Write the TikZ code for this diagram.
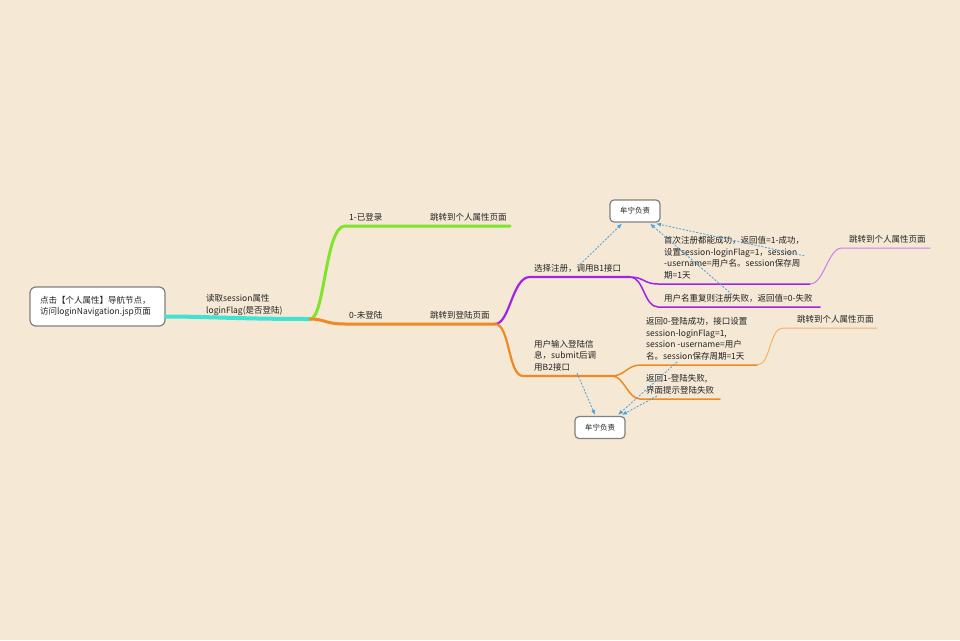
\documentclass[tikz,border=0pt]{standalone}
\usepackage{fontspec}
\setmainfont{Noto Sans CJK SC}
\usetikzlibrary{arrows.meta, positioning, calc}
\definecolor{paper}{RGB}{245,232,212}
\definecolor{rootcyan}{RGB}{64,226,212}
\definecolor{loggreen}{RGB}{128,228,44}
\definecolor{nologorange}{RGB}{240,136,36}
\definecolor{lightorange}{RGB}{246,176,106}
\definecolor{regpurple}{RGB}{160,36,230}
\definecolor{regviolet}{RGB}{212,124,232}
\definecolor{linkblue}{RGB}{70,160,225}
\definecolor{boxgray}{RGB}{128,128,128}
\definecolor{inkgray}{RGB}{34,34,34}

\tikzset{
  topic/.style={anchor=south west, inner xsep=0pt, inner ysep=2.5pt, align=left,
    text=inkgray, font=\fontsize{8.5}{11.7}\selectfont},
  rootbox/.style={draw=boxgray, fill=white, rounded corners=6pt, line width=1.2pt,
    text width=115pt, inner xsep=10pt, minimum height=39pt, align=left,
    text=inkgray, font=\fontsize{8.5}{11.7}\selectfont},
  ownerbox/.style={draw=boxgray, fill=white, rounded corners=4pt, line width=1.2pt,
    minimum width=50pt, minimum height=22pt, text=inkgray, font=\fontsize{7.5}{9}\selectfont},
  link/.style={linkblue, line width=0.8pt, dash pattern=on 2pt off 1.5pt,
    -{Latex[length=5pt,width=4pt]}},
  branch/.style={line cap=round}
}

\begin{document}
\begin{tikzpicture}[x=1pt, y=-1pt]
    % Background
    \fill[paper] (0,0) rectangle (960,640);

    % Root topic
    \node[rootbox] (root) at (97.5,306.5) {点击【个人属性】导航节点，\\访问loginNavigation.jsp页面};
    \coordinate (rootout) at ($(root.east)+(0,10)$);
    \coordinate (hub) at (310,319);
    \draw[branch, rootcyan, line width=4pt] (rootout) .. controls +(40,0) and +(-70,0) .. (hub);
    \node[topic] (readlbl) at (206,318) {读取session属性\\loginFlag(是否登陆)};

    % 1 - logged in
    \coordinate (yes) at (345,226);
    \coordinate (yesgo) at (510,226);
    \draw[branch, loggreen, line width=3pt] (hub) .. controls +(15,0) and +(-20,0) .. (yes) -- (yesgo);
    \node[topic] (yeslbl) at (349,224) {1-已登录};
    \node[topic] (yesgolbl) at (430,224) {跳转到个人属性页面};

    % 0 - not logged in
    \coordinate (no) at (345,324);
    \coordinate (nogo) at (495,324);
    \draw[branch, nologorange, line width=3pt] (hub) .. controls +(15,0) and +(-20,0) .. (no) -- (nogo);
    \node[topic] (nolbl) at (349,322) {0-未登陆};
    \node[topic] (nogolbl) at (430,322) {跳转到登陆页面};

    % Register
    \coordinate (reg) at (530,277);
    \coordinate (regend) at (630,277);
    \draw[branch, regpurple, line width=2.2pt] (nogo) .. controls +(15,0) and +(-18,0) .. (reg) -- (regend);
    \node[topic] (reglbl) at (534,275) {选择注册，调用B1接口};

    \coordinate (regok) at (658,284);
    \coordinate (regokend) at (810,284);
    \draw[branch, regpurple, line width=1.5pt] (regend) .. controls +(14,0) and +(-14,0) .. (regok) -- (regokend);
    \node[topic] (regoklbl) at (664,282) {首次注册都能成功，返回值=1-成功，\\设置session-loginFlag=1，session\\-username=用户名。session保存周\\期=1天};
    \coordinate (regokgo) at (842,248);
    \coordinate (regokgoend) at (930,248);
    \draw[branch, regviolet, line width=1pt] (regokend) .. controls +(14,0) and +(-14,0) .. (regokgo) -- (regokgoend);
    \node[topic] (regokgolbl) at (849,246) {跳转到个人属性页面};

    \coordinate (regfail) at (658,307);
    \coordinate (regfailend) at (820,307);
    \draw[branch, regpurple, line width=1.5pt] (regend) .. controls +(14,0) and +(-14,0) .. (regfail) -- (regfailend);
    \node[topic] (regfaillbl) at (664,305) {用户名重复则注册失败，返回值=0-失败};

    % Login
    \coordinate (login) at (523,376);
    \coordinate (loginend) at (612,376);
    \draw[branch, nologorange, line width=2.2pt] (nogo) .. controls +(15,0) and +(-15,0) .. (login) -- (loginend);
    \node[topic] (loginlbl) at (534,374) {用户输入登陆信\\息，submit后调\\用B2接口};

    \coordinate (loginok) at (640,365);
    \coordinate (loginokend) at (757,365);
    \draw[branch, nologorange, line width=1.5pt] (loginend) .. controls +(12,0) and +(-12,0) .. (loginok) -- (loginokend);
    \node[topic] (loginoklbl) at (646,363) {返回0-登陆成功，接口设置\\session-loginFlag=1,\\session -username=用户\\名。session保存周期=1天};
    \coordinate (loginokgo) at (783,328);
    \coordinate (loginokgoend) at (877,328);
    \draw[branch, lightorange, line width=1pt] (loginokend) .. controls +(14,0) and +(-14,0) .. (loginokgo) -- (loginokgoend);
    \node[topic] (loginokgolbl) at (797,326) {跳转到个人属性页面};

    \coordinate (loginfail) at (640,399);
    \coordinate (loginfailend) at (720,399);
    \draw[branch, nologorange, line width=1.5pt] (loginend) .. controls +(12,0) and +(-12,0) .. (loginfail) -- (loginfailend);
    \node[topic] (loginfaillbl) at (646,397) {返回1-登陆失败,\\界面提示登陆失败};

    % Owners
    \node[ownerbox] (ownertop) at (635,211) {牟宁负责};
    \node[ownerbox] (ownerbot) at (600,427.5) {牟宁负责};

    % Relationship links
    \draw[link] ($(reglbl.north west)+(46,3)$) -- ($(ownertop.south)+(-13,1)$);
    \draw[link] ($(regoklbl.east)+(0,-2)$) -- ($(ownertop.south)+(21,1)$);
    \draw[link] ($(regfaillbl.north west)+(68,3)$) -- ($(ownertop.south)+(15,1)$);
    \draw[link] ($(loginlbl.south west)+(43,-1)$) -- ($(ownerbot.north)+(-5,-1)$);
    \draw[link] ($(loginoklbl.south west)+(31,-1)$) -- ($(ownerbot.north)+(18,-1)$);
    \draw[link] ($(loginfaillbl.south west)+(11,-1)$) -- ($(ownerbot.north)+(22,-1)$);
\end{tikzpicture}
\end{document}
